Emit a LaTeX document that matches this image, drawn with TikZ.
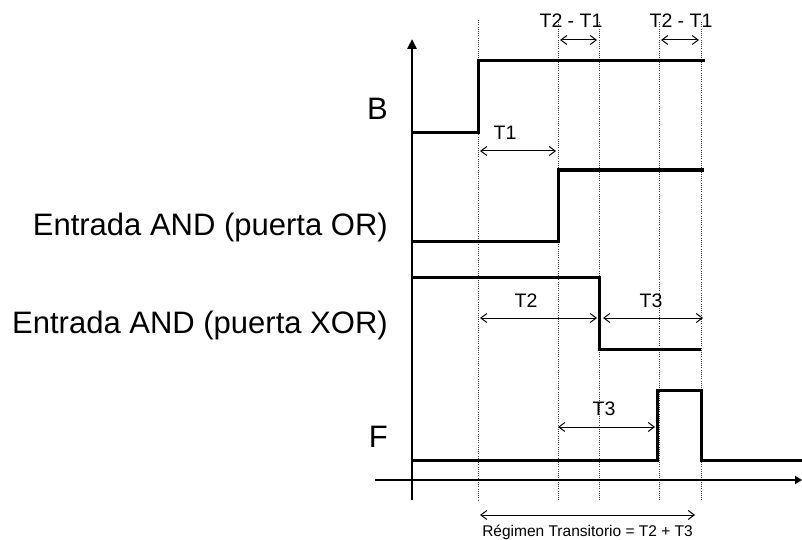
\documentclass[tikz,border=0pt]{standalone}
\usepackage{fontspec}
\setmainfont{Liberation Sans}
\usetikzlibrary{arrows.meta}
\begin{document}
\begin{tikzpicture}[x=1pt,y=-1pt,
  sig/.style={line width=3pt,line join=miter},
  axis/.style={line width=2.6pt},
  guide/.style={line width=0.9pt,black!75,dash pattern=on 1pt off 1.2pt},
  dim/.style={line width=1pt,{Straight Barb[length=6pt,width=9pt]}-{Straight Barb[length=6pt,width=9pt]}},
  big/.style={font=\fontsize{31}{36}\selectfont,inner sep=0pt,anchor=base east},
  small/.style={font=\fontsize{19.5}{22}\selectfont,inner sep=0pt,anchor=base},
  tiny/.style={font=\fontsize{15.5}{18}\selectfont,inner sep=0pt,anchor=base}]
\useasboundingbox (0,0) rectangle (802,540);
% guide lines
\foreach \x/\t in {478/20,558/22,599/22,659/22,701/22}
  \draw[guide] (\x,\t) -- (\x,500);
% axes
\coordinate (ybot) at (412,500);
\coordinate (ytop) at (412,39);
\coordinate (xl) at (375,480);
\coordinate (xr) at (802,480);
\draw[axis,-{Triangle[length=10pt,width=9pt]}] (ybot) -- (ytop);
\draw[axis,-{Triangle[length=7pt,width=8pt]}] (xl) -- (xr);
% signals
\draw[sig] (412,133) -- (478,133) -- (478,61) -- (705,61);
\draw[sig] (412,241) -- (558,241) -- (558,170) -- (704,170);
\draw[sig] (412,277) -- (599,277) -- (599,349) -- (701,349);
\draw[sig] (412,460) -- (657,460) -- (657,390) -- (701,390) -- (701,460) -- (802,460);
% labels
\node[big] (lB) at (388,120) {B};
\node[big] (lOR) at (388,235) {Entrada AND (puerta OR)};
\node[big] (lXOR) at (388,333) {Entrada AND (puerta XOR)};
\node[big] (lF) at (388,447) {F};
% dimension arrows
\coordinate (a1) at (560,40); \coordinate (a2) at (597,40);
\coordinate (b1) at (661,40); \coordinate (b2) at (699,40);
\coordinate (c1) at (480,151); \coordinate (c2) at (556,151);
\coordinate (d1) at (480,318); \coordinate (d2) at (597,318);
\coordinate (e1) at (603,318); \coordinate (e2) at (703,318);
\coordinate (f1) at (558,427); \coordinate (f2) at (655,427);
\coordinate (g1) at (480,515); \coordinate (g2) at (695,515);
\draw[dim] (a1) -- (a2);
\draw[dim] (b1) -- (b2);
\draw[dim] (c1) -- (c2);
\draw[dim] (d1) -- (d2);
\draw[dim] (e1) -- (e2);
\draw[dim] (f1) -- (f2);
\draw[dim] (g1) -- (g2);
\node[small] (t21a) at (571,28) {T2 - T1};
\node[small] (t21b) at (681,28) {T2 - T1};
\node[small] (t1) at (505,140) {T1};
\node[small] (t2) at (526,307) {T2};
\node[small] (t3a) at (651,307) {T3};
\node[small] (t3b) at (604,415) {T3};
\node[tiny] (reg) at (587.5,536) {Régimen Transitorio = T2 + T3};
\end{tikzpicture}
\end{document}
